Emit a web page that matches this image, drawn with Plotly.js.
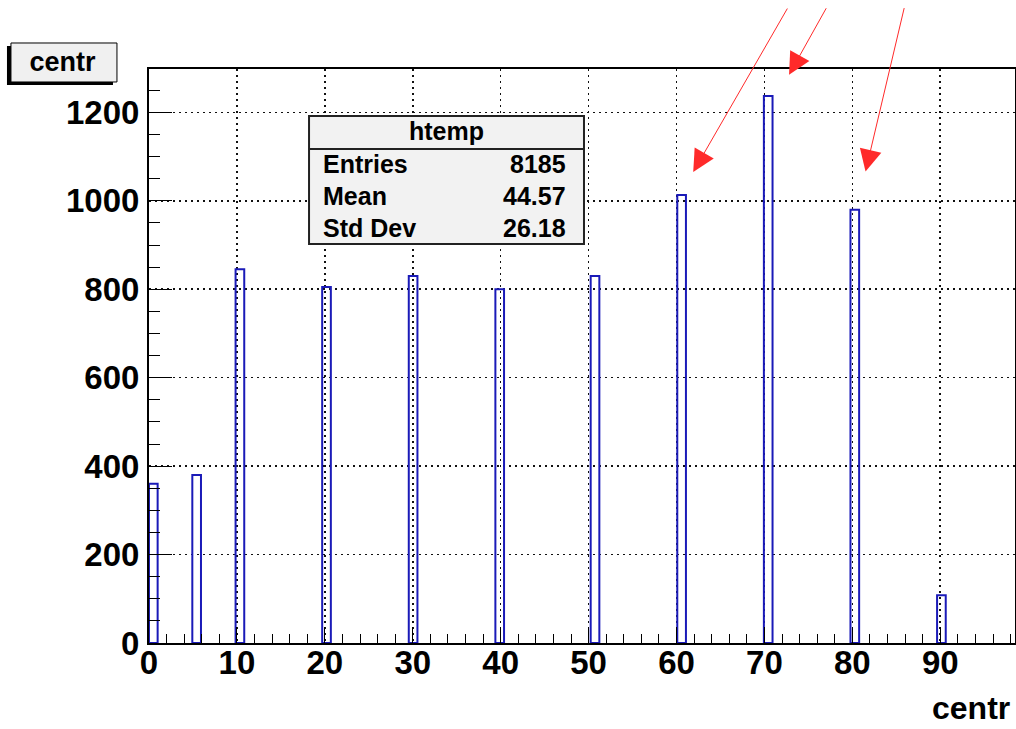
<!DOCTYPE html>
<html>
<head>
<meta charset="utf-8">
<script src="https://cdn.plot.ly/plotly-3.0.1.min.js"></script>
<style>
  html, body { margin: 0; padding: 0; background: #ffffff; }
  #chart { width: 1016px; height: 729px; }
</style>
</head>
<body>
<div id="chart"></div>
<script>
// ---- data ----
const binCenters = [0.49, 5.42, 10.34, 20.19, 30.04, 39.89, 50.73, 60.58, 70.43, 80.28, 90.13];
const counts     = [360, 380, 845, 805, 830, 800, 830, 1013, 1237, 980, 108];
const binWidth   = 0.985;

const histName   = "htemp";
const varName    = "centr";
const statLabels = ["Entries", "Mean", "Std Dev"];
const statValues = ["8185", "44.57", "26.18"];

// arrow tips (data units) and tail offsets (px)
const arrowTipX  = [61.9, 72.8, 81.5];
const arrowTipY  = [1065, 1285, 1066];
const arrowDx    = [95, 38, 39];
const arrowDy    = [-165, -68, -165];

const FONT = "Liberation Sans, Arial, Helvetica, sans-serif";

const trace = {
  type: "bar",
  x: binCenters,
  y: counts,
  width: binCenters.map(() => binWidth),
  marker: { color: "rgba(255,255,255,0)", line: { color: "#1a1ab8", width: 2 } },
  hoverinfo: "x+y"
};

const annotations = [];
// stats box texts
annotations.push({
  xref: "paper", yref: "paper", x: 0.343, y: 0.892, xanchor: "center", yanchor: "middle",
  text: histName, showarrow: false, font: { family: FONT, size: 25, color: "#000", weight: 700 }
});
const statY = [0.8345, 0.7787, 0.723];
statLabels.forEach((lab, i) => {
  annotations.push({
    xref: "paper", yref: "paper", x: 0.1986, y: statY[i], xanchor: "left", yanchor: "middle",
    text: lab, showarrow: false, font: { family: FONT, size: 25, color: "#000", weight: 700 }
  });
  annotations.push({
    xref: "paper", yref: "paper", x: 0.4838, y: statY[i], xanchor: "right", yanchor: "middle",
    text: statValues[i], showarrow: false, font: { family: FONT, size: 25, color: "#000", weight: 700 }
  });
});
// x-axis title (right aligned, ROOT style)
annotations.push({
  xref: "paper", yref: "paper", x: 0.996, y: -0.1132, xanchor: "right", yanchor: "middle",
  text: varName, showarrow: false, font: { family: FONT, size: 32, color: "#000", weight: 700 }
});
// red arrows
arrowTipX.forEach((ax, i) => {
  annotations.push({
    xref: "x", yref: "y", x: ax, y: arrowTipY[i], ax: arrowDx[i], ay: arrowDy[i],
    text: "", showarrow: true, arrowhead: 2, arrowsize: 4.4, arrowwidth: 1,
    arrowcolor: "#ff2a2a", standoff: 0
  });
});

const shapes = [
  // title box shadow + box
  { type: "rect", xref: "paper", yref: "paper", x0: -0.164, x1: -0.0416, y0: 0.9721, y1: 1.040,
    fillcolor: "#000", line: { width: 0 }, layer: "above" },
  { type: "rect", xref: "paper", yref: "paper", x0: -0.1594, x1: -0.037, y0: 0.9774, y1: 1.0453,
    fillcolor: "#f0f0f0", line: { color: "#000", width: 1 }, layer: "above" },
  // stats box
  { type: "rect", xref: "paper", yref: "paper", x0: 0.1848, x1: 0.5023, y0: 0.6951, y1: 0.918,
    fillcolor: "#f2f2f2", line: { color: "#222", width: 2 }, layer: "above" },
  { type: "line", xref: "paper", yref: "paper", x0: 0.1848, x1: 0.5023, y0: 0.8606, y1: 0.8606,
    line: { color: "#222", width: 2 }, layer: "above" }
];

const layout = {
  width: 1016, height: 729,
  margin: { l: 149, r: 1, t: 69, b: 86, pad: 0 },
  paper_bgcolor: "#ffffff", plot_bgcolor: "#ffffff",
  showlegend: false,
  barmode: "overlay",
  title: {
    text: varName, xref: "container", yref: "container",
    x: 0.0615, y: 0.915, xanchor: "center", yanchor: "middle",
    font: { family: FONT, size: 27, color: "#000", weight: 700 }
  },
  xaxis: {
    range: [0, 98.5], tick0: 0, dtick: 10, ticks: "inside", ticklen: 16, tickwidth: 1, tickcolor: "#000",
    minor: { dtick: 2, ticks: "inside", ticklen: 9, tickwidth: 1, tickcolor: "#000", showgrid: false },
    showgrid: true, gridcolor: "#111", gridwidth: 1.6, griddash: "2px,4px",
    zeroline: false, showline: true, linecolor: "#000", linewidth: 2, mirror: true,
    tickfont: { family: FONT, size: 33, color: "#000", weight: 700 },
    ticklabelstandoff: -11
  },
  yaxis: {
    range: [0, 1298], tick0: 0, dtick: 200, ticks: "inside", ticklen: 23, tickwidth: 1, tickcolor: "#000",
    minor: { dtick: 50, ticks: "inside", ticklen: 11, tickwidth: 1, tickcolor: "#000", showgrid: false },
    showgrid: true, gridcolor: "#111", gridwidth: 1.6, griddash: "2px,4px",
    zeroline: false, showline: true, linecolor: "#000", linewidth: 2, mirror: true,
    tickfont: { family: FONT, size: 33, color: "#000", weight: 700 },
    ticklabelstandoff: 1
  },
  shapes: shapes,
  annotations: annotations
};

Plotly.newPlot("chart", [trace], layout, { displayModeBar: false, staticPlot: true });
</script>
</body>
</html>
